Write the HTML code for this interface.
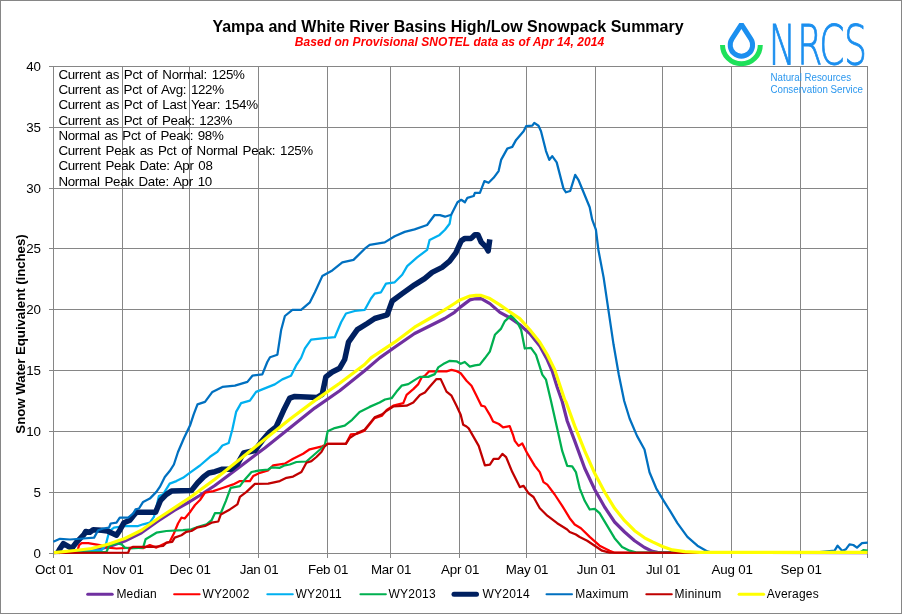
<!DOCTYPE html>
<html lang="en">
<head>
<meta charset="utf-8">
<title>Yampa and White River Basins High/Low Snowpack Summary</title>
<style>
html,body{margin:0;padding:0;background:#fff;}
body{width:902px;height:614px;overflow:hidden;position:relative;font-family:"Liberation Sans",Arial,sans-serif;}
svg{position:absolute;left:0;top:0;display:block;}
text{font-family:"Liberation Sans",Arial,sans-serif;fill:#000;}
.ax{font-size:13.33px;letter-spacing:-0.2px;}
.st{font-size:13.33px;}
.lg{font-size:12px;letter-spacing:0.2px;}
text.nr{font-family:"DejaVu Sans","Liberation Sans",sans-serif;font-weight:200;font-size:56px;fill:#1B8FEF;stroke:#1B8FEF;stroke-width:0.9px;}
</style>
</head>
<body>
<svg width="902" height="614" viewBox="0 0 902 614">
<rect x="0.5" y="0.5" width="901" height="613" fill="#fff" stroke="#868686" stroke-width="1"/>
<path d="M49 553.5H868 M49 492.5H868 M49 431.5H868 M49 370.5H868 M49 309.5H868 M49 248.5H868 M49 188.5H868 M49 127.5H868 M49 66.5H868 M53.5 66V558 M122.5 66V558 M189.5 66V558 M258.5 66V558 M327.5 66V558 M390.5 66V558 M459.5 66V558 M526.5 66V558 M595.5 66V558 M662.5 66V558 M731.5 66V558 M800.5 66V558 M867.5 66V558" fill="none" stroke="#868686" stroke-width="1" shape-rendering="crispEdges"/>
<text class="ax" x="40.7" y="558.1" text-anchor="end">0</text>
<text class="ax" x="40.7" y="497.1" text-anchor="end">5</text>
<text class="ax" x="40.7" y="436.1" text-anchor="end">10</text>
<text class="ax" x="40.7" y="375.1" text-anchor="end">15</text>
<text class="ax" x="40.7" y="314.1" text-anchor="end">20</text>
<text class="ax" x="40.7" y="253.1" text-anchor="end">25</text>
<text class="ax" x="40.7" y="193.1" text-anchor="end">30</text>
<text class="ax" x="40.7" y="132.1" text-anchor="end">35</text>
<text class="ax" x="40.7" y="71.1" text-anchor="end">40</text>
<text class="ax" x="54.1" y="573.7" text-anchor="middle">Oct 01</text>
<text class="ax" x="123.1" y="573.7" text-anchor="middle">Nov 01</text>
<text class="ax" x="190.1" y="573.7" text-anchor="middle">Dec 01</text>
<text class="ax" x="259.1" y="573.7" text-anchor="middle">Jan 01</text>
<text class="ax" x="328.1" y="573.7" text-anchor="middle">Feb 01</text>
<text class="ax" x="391.1" y="573.7" text-anchor="middle">Mar 01</text>
<text class="ax" x="460.1" y="573.7" text-anchor="middle">Apr 01</text>
<text class="ax" x="527.1" y="573.7" text-anchor="middle">May 01</text>
<text class="ax" x="596.1" y="573.7" text-anchor="middle">Jun 01</text>
<text class="ax" x="663.1" y="573.7" text-anchor="middle">Jul 01</text>
<text class="ax" x="732.1" y="573.7" text-anchor="middle">Aug 01</text>
<text class="ax" x="801.1" y="573.7" text-anchor="middle">Sep 01</text>
<text x="0" y="0" transform="translate(25.4,334) rotate(-90)" text-anchor="middle" font-size="13.33" letter-spacing="-0.08" font-weight="bold">Snow Water Equivalent (inches)</text>
<text class="st" x="58.4" y="78.7" letter-spacing="-0.3" word-spacing="1.41">Current as Pct of Normal: 125%</text>
<text class="st" x="58.4" y="94.0" letter-spacing="-0.3" word-spacing="1.26">Current as Pct of Avg: 122%</text>
<text class="st" x="58.4" y="109.2" letter-spacing="-0.3" word-spacing="1.41">Current as Pct of Last Year: 154%</text>
<text class="st" x="58.4" y="124.5" letter-spacing="-0.3" word-spacing="1.32">Current as Pct of Peak: 123%</text>
<text class="st" x="58.4" y="139.8" letter-spacing="-0.3" word-spacing="1.25">Normal as Pct of Peak: 98%</text>
<text class="st" x="58.4" y="155.1" letter-spacing="-0.3" word-spacing="1.46">Current Peak as Pct of Normal Peak: 125%</text>
<text class="st" x="58.4" y="170.3" letter-spacing="-0.3" word-spacing="1.34">Current Peak Date: Apr 08</text>
<text class="st" x="58.4" y="185.6" letter-spacing="-0.3" word-spacing="1.48">Normal Peak Date: Apr 10</text>
<polyline points="54.0,552.6 75.0,551.8 92.0,550.5 108.0,547.0 124.8,541.0 141.5,532.7 158.1,521.0 174.7,510.2 190.0,501.5 199.7,495.5 214.9,485.5 239.9,466.7 264.8,448.0 289.8,428.1 314.7,408.1 339.7,390.7 364.6,370.7 379.7,357.9 394.7,347.2 414.6,333.5 429.6,326.0 444.6,318.5 454.5,312.3 460.0,307.4 469.9,299.9 475.0,298.8 481.2,298.6 489.9,303.6 499.9,312.4 509.8,317.8 519.8,324.8 529.8,333.6 539.8,346.0 547.3,359.8 552.2,371.0 557.2,387.2 562.2,401.5 567.2,421.0 574.7,440.9 584.7,468.3 594.7,489.5 604.6,507.0 614.6,522.0 624.6,532.0 634.6,540.7 644.5,547.5 652.5,551.4 657.5,552.4 867.5,552.6" fill="none" stroke="#7030A0" stroke-width="3.2" stroke-linejoin="round" stroke-linecap="butt"/>
<polyline points="54.0,552.8 77.0,552.5 79.1,545.1 81.6,543.1 88.2,543.1 99.9,545.1 108.2,547.6 116.5,548.5 133.2,547.6 143.1,548.1 149.8,545.1 156.4,547.6 164.8,543.5 169.7,541.8 173.9,533.5 178.0,523.5 181.4,517.7 184.7,518.5 189.7,512.5 195.0,505.0 200.0,500.0 205.0,492.7 213.3,491.1 223.3,487.8 233.2,484.4 239.9,481.1 249.9,481.1 253.2,476.1 259.8,472.8 268.2,470.3 273.2,465.3 284.8,463.6 293.1,458.7 303.1,453.7 309.7,449.3 322.2,446.3 327.7,443.8 345.9,443.8 350.9,434.3 357.1,433.8 364.6,430.6 374.6,418.1 382.1,415.6 386.7,409.9 393.3,405.7 403.3,403.2 406.6,394.9 413.3,389.1 418.3,384.1 421.6,377.4 424.9,375.8 429.1,371.3 446.5,371.3 451.5,369.9 455.7,370.8 460.7,373.3 466.5,380.7 471.5,385.7 476.5,395.7 481.4,405.7 484.8,406.5 489.8,414.8 493.1,421.5 498.9,424.0 503.1,427.3 509.7,426.1 513.0,434.8 514.8,440.9 518.6,445.9 522.3,443.4 527.3,453.4 534.8,465.9 539.8,472.1 543.5,482.1 547.3,484.6 554.7,494.5 562.2,505.8 569.7,518.2 574.7,524.5 580.9,528.2 589.7,536.9 599.6,545.7 609.6,550.7 614.6,552.7 700.0,552.8" fill="none" stroke="#FF0000" stroke-width="2.25" stroke-linejoin="round" stroke-linecap="butt"/>
<polyline points="54.0,552.6 101.6,550.0 105.7,545.1 108.2,535.2 110.7,530.2 114.0,527.7 124.8,526.0 138.1,526.0 143.1,524.3 149.8,522.7 153.9,516.9 156.4,506.9 158.9,496.1 163.1,494.4 169.7,483.6 176.4,481.1 183.0,477.8 189.7,472.8 200.0,465.5 210.0,456.8 217.4,451.8 222.4,445.5 228.7,443.0 232.4,429.3 236.1,411.9 241.1,403.1 249.9,400.6 256.1,391.9 262.3,389.4 274.8,384.4 282.3,379.4 291.0,375.7 296.0,365.7 301.1,357.9 304.9,348.4 311.1,339.7 322.3,338.4 334.8,337.2 341.1,322.2 346.0,313.5 354.8,311.0 364.8,309.8 371.0,298.5 374.7,293.6 381.0,292.3 386.0,283.6 394.7,282.3 402.2,274.8 407.2,266.1 417.1,257.4 427.1,249.9 429.6,239.9 439.6,234.9 445.0,229.7 449.6,223.7 451.2,214.7" fill="none" stroke="#00B0F0" stroke-width="2.25" stroke-linejoin="round" stroke-linecap="butt"/>
<polyline points="54.0,552.8 106.5,551.8 109.0,546.0 116.5,543.1 121.5,544.3 124.8,547.6 129.8,548.5 143.1,547.6 145.6,539.3 149.8,536.8 156.4,532.7 166.4,531.0 183.0,530.2 191.4,529.3 198.3,526.8 206.6,524.3 211.6,520.2 214.9,513.2 220.8,513.2 225.8,501.1 230.7,487.8 239.9,486.1 244.9,479.4 251.5,472.0 259.8,470.3 268.2,469.5 271.5,467.3 279.8,467.8 284.8,465.3 289.8,464.5 296.4,462.0 306.4,461.5 324.7,445.5 327.7,431.3 334.7,428.1 344.7,425.6 352.1,419.8 359.6,411.9 369.6,406.9 379.6,402.5 385.0,399.5 391.6,398.2 396.6,391.6 401.6,385.7 408.3,384.1 414.9,379.9 419.9,376.9 428.2,376.9 434.9,374.1 438.2,367.4 443.2,364.1 449.8,360.8 456.5,361.3 460.7,363.8 464.8,362.0 469.8,366.6 474.8,365.3 479.8,364.6 484.8,358.3 489.8,351.6 491.1,347.3 494.9,334.8 501.1,328.6 504.9,321.1 511.1,315.4 517.3,322.3 521.1,329.8 524.8,348.5 531.0,347.8 536.0,354.8 542.3,374.7 546.0,379.7 551.0,401.0 557.2,428.4 562.2,450.9 567.2,465.9 572.2,466.4 575.9,472.1 579.7,488.3 584.7,500.8 589.7,509.5 594.7,508.8 599.6,513.2 607.1,525.7 614.6,538.2 622.1,546.9 629.6,550.7 635.8,552.4 858.0,552.6 860.8,551.9 863.3,550.2 867.7,550.7" fill="none" stroke="#00B050" stroke-width="2.25" stroke-linejoin="round" stroke-linecap="butt"/>
<polyline points="57.6,552.8 59.6,549.3 63.4,543.6 71.8,548.4 76.9,541.8 84.1,534.3 85.8,531.5 89.9,532.2 93.2,529.8 101.6,530.2 107.4,531.0 116.5,535.2 119.8,530.2 124.0,522.7 129.8,520.2 133.2,516.0 136.5,512.2 155.6,512.2 160.6,500.2 166.4,494.4 171.4,491.1 191.4,490.6 197.5,483.0 203.7,476.7 208.7,473.0 214.9,471.7 222.4,469.2 231.2,469.2 237.4,464.2 243.6,453.0 254.9,450.5 262.3,440.5 269.8,431.8 276.1,426.8 283.5,410.6 289.8,398.1 294.8,396.4 317.2,397.4 322.2,394.4 325.9,376.9 332.2,372.0 339.7,368.2 344.7,359.5 348.5,342.2 357.3,329.7 367.2,323.5 374.7,318.5 387.2,314.8 392.2,301.0 402.2,293.6 414.6,284.8 424.6,278.6 432.1,272.4 442.1,267.4 449.6,261.1 455.8,252.9 461.2,240.9 464.9,238.4 471.2,238.4 474.9,234.7 477.9,234.7 481.2,242.2 486.1,247.2 488.2,250.8 489.8,239.3" fill="none" stroke="#002060" stroke-width="5.5" stroke-linejoin="round" stroke-linecap="butt"/>
<polyline points="53.3,541.8 60.0,538.8 70.0,539.5 83.3,538.5 94.1,537.6 98.2,530.2 103.2,528.5 109.0,527.7 110.7,523.5 116.5,522.7 119.8,517.7 128.2,517.7 133.2,513.5 135.6,509.4 139.0,508.5 143.1,501.9 149.8,498.6 156.4,491.9 159.8,486.9 164.8,476.9 169.7,471.1 173.9,464.5 178.0,452.0 184.0,438.0 190.0,425.6 193.7,414.4 197.5,404.4 205.0,401.9 212.4,391.9 222.4,386.9 234.9,385.7 247.4,381.9 252.4,375.7 262.3,374.4 267.3,362.0 270.0,357.2 277.4,354.7 281.2,329.7 284.9,316.0 292.4,309.8 301.1,309.8 309.9,302.3 314.9,292.3 322.3,276.1 332.3,270.4 342.3,262.4 353.5,259.9 364.8,248.7 369.7,244.9 384.7,242.4 394.7,236.2 404.7,231.9 414.6,229.4 427.1,225.0 434.6,215.0 440.0,215.2 445.0,216.7 451.2,214.7 457.5,202.3 461.2,199.8 464.9,202.3 467.4,197.8 473.7,196.0 474.9,192.8 479.9,192.8 484.4,181.1 488.6,182.8 493.6,177.8 498.6,171.1 501.1,159.9 507.3,148.6 512.3,146.9 516.1,139.9 523.6,131.2 526.1,126.2 532.3,125.7 534.3,122.9 538.5,125.7 541.0,131.2 546.0,151.1 549.3,159.9 552.2,156.1 556.7,162.4 563.5,188.6 566.0,192.3 570.2,191.0 575.2,174.8 578.4,179.8 589.7,207.3 592.2,219.7 595.9,229.7 598.4,250.0 603.6,277.4 608.4,309.9 613.6,344.8 618.8,374.7 624.2,401.0 629.6,418.5 637.0,435.9 644.5,449.5 649.5,472.3 656.2,488.3 663.7,500.8 669.9,510.7 677.4,523.2 687.4,536.9 697.4,545.7 707.4,551.4 712.0,552.6 817.0,552.4 834.6,550.7 837.6,545.7 842.1,550.7 845.8,549.4 849.5,544.4 853.3,545.0 857.0,547.7 862.0,543.2 867.7,542.7" fill="none" stroke="#0070C0" stroke-width="2.25" stroke-linejoin="round" stroke-linecap="butt"/>
<polyline points="54.0,552.8 128.2,552.6 129.8,548.5 133.2,546.8 153.1,546.8 163.1,546.0 166.4,542.6 172.2,541.8 174.7,537.6 181.4,535.2 186.4,531.8 191.4,531.0 196.7,527.7 205.0,526.0 211.6,522.7 218.3,521.5 220.8,514.4 229.9,509.4 237.4,504.4 239.9,496.9 246.5,491.9 254.9,483.9 268.2,483.6 279.8,481.1 286.5,477.8 293.1,476.6 301.4,472.0 306.4,462.8 311.4,461.1 316.4,457.0 321.4,452.0 324.7,446.3 327.7,443.8 345.9,443.8 349.6,438.1 357.1,433.1 364.6,429.8 374.6,417.4 382.1,414.4 386.7,410.7 393.3,406.5 406.6,405.7 413.3,402.4 419.9,394.9 424.9,392.4 429.9,386.6 436.5,379.1 440.7,379.1 446.5,391.6 451.5,395.7 456.5,405.7 460.7,414.8 463.2,424.8 466.5,426.5 468.7,428.4 478.7,445.9 484.9,465.4 489.9,464.6 493.6,458.9 498.6,458.9 502.4,453.9 506.1,457.1 512.3,472.1 519.8,487.1 523.6,485.8 528.6,493.3 533.5,497.0 539.8,508.3 547.3,515.7 557.2,523.2 567.2,529.5 569.7,532.0 575.9,534.5 579.7,537.0 587.2,540.7 594.7,545.7 602.1,550.7 609.6,552.7 700.0,552.8" fill="none" stroke="#C00000" stroke-width="2.25" stroke-linejoin="round" stroke-linecap="butt"/>
<polyline points="54.0,552.6 74.9,550.5 91.6,548.5 108.2,544.3 124.8,538.5 141.5,530.2 158.1,518.5 174.7,507.7 190.0,497.5 214.9,479.2 239.9,459.3 264.8,439.3 289.8,419.3 314.7,400.6 339.7,383.2 364.6,364.5 371.0,357.9 394.7,342.2 414.6,327.2 429.6,318.5 444.6,309.8 454.5,303.5 460.0,299.9 469.9,296.1 476.0,295.3 481.2,295.4 489.9,298.6 499.9,304.9 509.8,311.9 519.8,318.6 529.8,329.8 539.8,342.3 547.3,354.8 554.7,369.7 559.7,384.7 564.7,399.7 566.0,402.0 574.7,425.9 584.7,450.9 594.7,473.3 604.6,492.0 614.6,508.3 624.6,520.7 634.6,530.7 644.5,537.8 652.5,541.9 662.5,546.5 672.4,549.9 684.9,551.7 700.0,552.4 867.5,552.4" fill="none" stroke="#FFFF00" stroke-width="3.2" stroke-linejoin="round" stroke-linecap="butt"/>
<text x="448" y="32" text-anchor="middle" font-size="16" font-weight="bold">Yampa and White River Basins High/Low Snowpack Summary</text>
<text x="449.5" y="45.5" text-anchor="middle" font-size="12" letter-spacing="0.05" font-weight="bold" font-style="italic" style="fill:#FF0000">Based on Provisional SNOTEL data as of Apr 14, 2014</text>
<line x1="87.7" y1="594.2" x2="112.2" y2="594.2" stroke="#7030A0" stroke-width="3" stroke-linecap="round"/><text class="lg" x="116.4" y="597.7">Median</text>
<line x1="174.1" y1="594.2" x2="199.6" y2="594.2" stroke="#FF0000" stroke-width="2" stroke-linecap="round"/><text class="lg" x="202.4" y="597.7">WY2002</text>
<line x1="267.3" y1="594.2" x2="292.8" y2="594.2" stroke="#00B0F0" stroke-width="2" stroke-linecap="round"/><text class="lg" x="295.5" y="597.7">WY2011</text>
<line x1="360.4" y1="594.2" x2="385.9" y2="594.2" stroke="#00B050" stroke-width="2" stroke-linecap="round"/><text class="lg" x="388.6" y="597.7">WY2013</text>
<line x1="454.0" y1="594.2" x2="476.5" y2="594.2" stroke="#002060" stroke-width="5" stroke-linecap="round"/><text class="lg" x="482.6" y="597.7">WY2014</text>
<line x1="546.5" y1="594.2" x2="572.0" y2="594.2" stroke="#0070C0" stroke-width="2" stroke-linecap="round"/><text class="lg" x="575.3" y="597.7">Maximum</text>
<line x1="646.3" y1="594.2" x2="671.8" y2="594.2" stroke="#C00000" stroke-width="2" stroke-linecap="round"/><text class="lg" x="674.6" y="597.7">Mininum</text>
<line x1="739.1" y1="594.2" x2="763.6" y2="594.2" stroke="#FFFF00" stroke-width="3" stroke-linecap="round"/><text class="lg" x="766.8" y="597.7">Averages</text>
<g id="logo">
<path d="M741.4 24.4 L750.8 38.91 A11.2 11.2 0 1 1 732 38.91 Z" fill="none" stroke="#1B8FEF" stroke-width="5" stroke-linejoin="bevel"/>
<path d="M722.5 44.9 A18.9 18.9 0 0 0 760.3 44.9" fill="none" stroke="#1EE15A" stroke-width="5"/>
<text class="nr" transform="translate(0,64.4) scale(0.645,1)" x="1191.7 1236.2 1270.2 1308.7" y="0">NRCS</text>
<text x="770.5" y="80.7" font-size="10" style="fill:#2B97EE" textLength="80.5" lengthAdjust="spacingAndGlyphs">Natural Resources</text>
<text x="770.5" y="93" font-size="10" style="fill:#2B97EE" textLength="92.5" lengthAdjust="spacingAndGlyphs">Conservation Service</text>
</g>
</svg>
</body>
</html>
